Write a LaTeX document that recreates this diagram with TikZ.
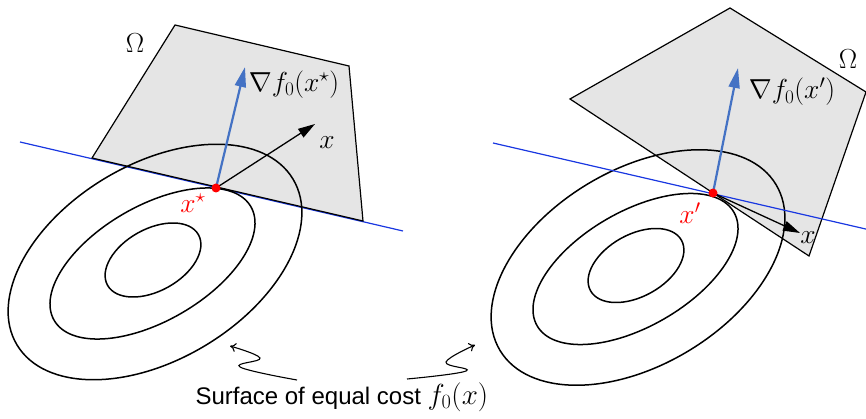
\RequirePackage{fix-cm}
\documentclass[tikz,border=0pt]{standalone}
\usepackage{amsmath}
\usepackage{amssymb}
\usepackage{fontspec}
\newfontfamily\labelsans{Liberation Sans}
\usetikzlibrary{arrows.meta,calc}

\definecolor{planeblue}{RGB}{25,55,225}
\definecolor{gradblue}{RGB}{68,114,196}
\definecolor{regiongray}{RGB}{229,229,229}

\tikzset{
  contour/.style={line width=1.5pt},
  region/.style={fill=regiongray,draw=black,line width=1.2pt},
  tangent/.style={planeblue,line width=1.2pt},
  gradarrow/.style={gradblue,line width=2.2pt,-{Triangle[length=20pt,width=11pt]}},
  dirarrow/.style={line width=1.3pt,-{Triangle[length=17pt,width=10pt]}},
  optpoint/.style={circle,fill=red,inner sep=0pt,minimum size=9pt},
  mlabel/.style={font=\fontsize{27.5}{32}\selectfont},
  squiggle/.style={line width=1.1pt,-{To[length=6pt,width=9pt]}}
}

\begin{document}
\begin{tikzpicture}[x=1pt,y=-1pt]
    \useasboundingbox (0,0) rectangle (866,419);

    % left: x* on the boundary
    \draw[tangent] (20,142) -- (403,231);
    \draw[region] (175,25) -- (349,66) -- (363,221) -- (92,158) -- cycle;
    \foreach \cx/\cy/\a/\b/\r in {155/262/161/97.5/31, 152.5/263.5/113.6/57.5/30, 153/260/52/31/29}
        \draw[contour,rotate around={\r:(\cx,\cy)}] (\cx,\cy) ellipse[x radius=\a pt,y radius=\b pt];
    \coordinate (xs) at (216,188);
    \coordinate (gradL) at (245,67);
    \coordinate (dirL) at (315,124);
    \draw[gradarrow] (xs) -- (gradL);
    \draw[dirarrow] (xs) -- (dirL);
    \node[optpoint] (xstar) at (xs) {};
    \node[mlabel] (omegaL) at (135,43) {$\Omega$};
    \node[mlabel] (gradlabL) at (294,85) {$\nabla f_0(x^\star)$};
    \node[mlabel] (xlabL) at (327,143) {$x$};
    \node[mlabel,text=red] (xstarlab) at (193,203) {$x^\star$};

    % right: x' is not optimal
    \draw[region] (570,99) -- (730,8) -- (866,92) -- (809,256) -- cycle;
    \begin{scope}[shift={(483,5.5)}]
        \foreach \cx/\cy/\a/\b/\r in {155/262/161/97.5/31, 152.5/263.5/113.6/57.5/30, 153/260/52/31/29}
            \draw[contour,rotate around={\r:(\cx,\cy)}] (\cx,\cy) ellipse[x radius=\a pt,y radius=\b pt];
    \end{scope}
    \draw[tangent] (493,143) -- (870,230);
    \coordinate (xp) at (713,193);
    \coordinate (gradR) at (738,68);
    \coordinate (dirR) at (800,233);
    \draw[gradarrow] (xp) -- (gradR);
    \draw[dirarrow] (xp) -- (dirR);
    \node[optpoint] (xprime) at (xp) {};
    \node[mlabel] (omegaR) at (848,59) {$\Omega$};
    \node[mlabel] (gradlabR) at (792,92) {$\nabla f_0(x')$};
    \node[mlabel] (xlabR) at (808,238) {$x$};
    \node[mlabel,text=red] (xprimelab) at (690,213) {$x'$};

    % level set label
    \node[anchor=base west,font=\labelsans\fontsize{24}{28}\selectfont] (cost) at (192,404) {Surface of equal cost {\fontsize{29}{34}\selectfont$f_0(x)$}};
    \coordinate (sqL) at (297,380);
    \coordinate (sqR) at (407,379);
    \draw[squiggle] plot[smooth,tension=0.7] coordinates {(sqL) (240,367) (260,358) (230,346)};
    \draw[squiggle] plot[smooth,tension=0.7] coordinates {(sqR) (466,371) (446,362) (475,345)};
\end{tikzpicture}
\end{document}
